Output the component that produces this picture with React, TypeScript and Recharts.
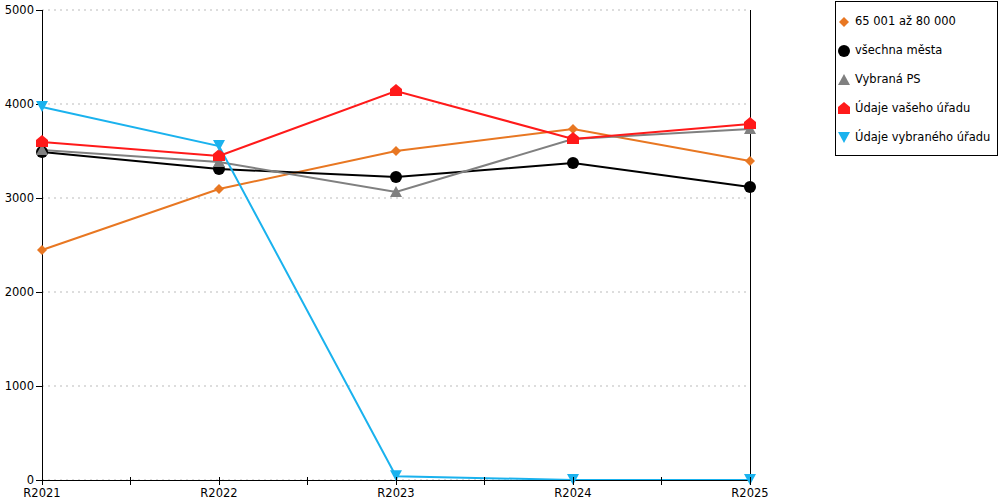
import React from 'react';
import { LineChart, Line, XAxis, YAxis, CartesianGrid, ReferenceLine } from 'recharts';

const roky = ['R2021', 'R2022', 'R2023', 'R2024', 'R2025'];
const skupina = [2447, 3096, 3500, 3734, 3394];
const vsechnaMesta = [3489, 3309, 3223, 3372, 3117];
const vybranaPS = [3511, 3383, 3064, 3628, 3734];
const vasUrad = [3596, 3447, 4138, 3628, 3787];
const vybranyUrad = [3968, 3553, 40, 0, 0];
const yTicks = [0, 1000, 2000, 3000, 4000, 5000];
const xTicks = [0, 0.5, 1, 1.5, 2, 2.5, 3, 3.5, 4];

const data = roky.map((r, i) => ({
  x: i,
  label: r,
  skupina: skupina[i],
  vsechna: vsechnaMesta[i],
  ps: vybranaPS[i],
  vas: vasUrad[i],
  vybrany: vybranyUrad[i],
}));

const FONT = '"DejaVu Sans", Verdana, sans-serif';
const CRISP = { shapeRendering: 'crispEdges' } as any;

type Shape = 'diamond' | 'circle' | 'triangle' | 'house' | 'down';

function marker(shape: Shape, color: string, cx: number, cy: number, key?: string) {
  switch (shape) {
    case 'diamond':
      return <path key={key} d={`M${cx},${cy - 5} L${cx + 5},${cy} L${cx},${cy + 5} L${cx - 5},${cy} Z`} fill={color} />;
    case 'circle':
      return <circle key={key} cx={cx} cy={cy} r={6} fill={color} />;
    case 'triangle':
      return <path key={key} d={`M${cx},${cy - 6} L${cx + 6},${cy + 5} L${cx - 6},${cy + 5} Z`} fill={color} />;
    case 'house':
      return <path key={key} d={`M${cx},${cy - 7} L${cx + 6},${cy - 2} L${cx + 6},${cy + 5} L${cx - 6},${cy + 5} L${cx - 6},${cy - 2} Z`} fill={color} />;
    case 'down':
      return <path key={key} d={`M${cx - 6},${cy - 6} L${cx + 6},${cy - 6} L${cx},${cy + 5} Z`} fill={color} />;
  }
}

const series: { key: string; name: string; color: string; shape: Shape }[] = [
  { key: 'skupina', name: '65 001 až 80 000', color: '#e87722', shape: 'diamond' },
  { key: 'vsechna', name: 'všechna města', color: '#000000', shape: 'circle' },
  { key: 'ps', name: 'Vybraná PS', color: '#808080', shape: 'triangle' },
  { key: 'vas', name: 'Údaje vašeho úřadu', color: '#ff1a1a', shape: 'house' },
  { key: 'vybrany', name: 'Údaje vybraného úřadu', color: '#1ab2ee', shape: 'down' },
];

function XTick(props: any) {
  const { x, y, payload } = props;
  const v = payload.value as number;
  const isCat = Number.isInteger(v);
  return (
    <g>
      <line x1={x} x2={x} y1={y - 3} y2={y + 5} stroke="#000" shapeRendering="crispEdges" />
      {isCat && (
        <text x={x} y={y + 17} textAnchor="middle" fontSize={11.5} fontFamily={FONT} fill="#000">
          {roky[v]}
        </text>
      )}
    </g>
  );
}

function LegendBox() {
  return (
    <div
      style={{
        position: 'absolute',
        left: 835,
        top: 1,
        width: 163,
        height: 155,
        border: '1px solid #000',
        background: '#fff',
        fontFamily: FONT,
        fontSize: 11.5,
        boxSizing: 'border-box',
        paddingTop: 4,
        whiteSpace: 'nowrap',
      }}
    >
      {series.map((s) => (
        <div key={s.key} style={{ height: 29, display: 'flex', alignItems: 'center' }}>
          <svg width={19} height={16}>
            {marker(s.shape, s.color, 8, 9)}
          </svg>
          <span>{s.name}</span>
        </div>
      ))}
    </div>
  );
}

export default function App() {
  return (
    <div style={{ position: 'absolute', left: 0, top: 0, width: 1000, height: 500, background: '#fff' }}>
      <LineChart width={1000} height={500} data={data} margin={{ top: 10, right: 250, bottom: 0, left: 2 }}>
        <CartesianGrid vertical={false} stroke="#bbbbbb" strokeDasharray="2 4" />
        <XAxis
          dataKey="x"
          type="number"
          domain={[0, 4]}
          ticks={xTicks}
          interval={0}
          height={20}
          tickSize={0}
          tickMargin={0}
          tickLine={false}
          axisLine={{ stroke: '#000', ...CRISP }}
          tick={<XTick />}
        />
        <YAxis
          width={40}
          domain={[0, 5000]}
          ticks={yTicks}
          interval={0}
          tickSize={6}
          tickMargin={2}
          axisLine={{ stroke: '#000', ...CRISP }}
          tickLine={{ stroke: '#000', ...CRISP }}
          tick={{ fontSize: 11.5, fontFamily: FONT, fill: '#000' }}
        />
        <ReferenceLine x={4} stroke="#000" strokeOpacity={1} strokeWidth={1} shapeRendering="crispEdges" ifOverflow="visible" />
        {series.map((s) => (
          <Line
            key={s.key}
            dataKey={s.key}
            name={s.name}
            stroke={s.color}
            strokeWidth={2}
            isAnimationActive={false}
            activeDot={false}
            dot={(p: any) => marker(s.shape, s.color, p.cx, p.cy, `${s.key}-${p.index}`)}
          />
        ))}
      </LineChart>
      <LegendBox />
    </div>
  );
}
